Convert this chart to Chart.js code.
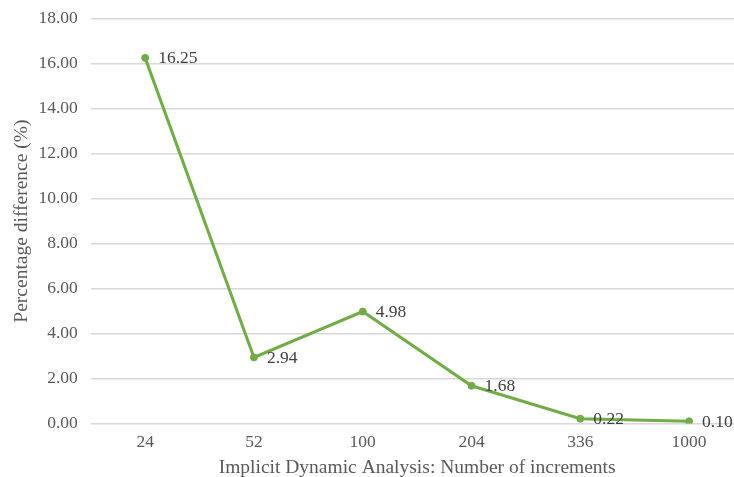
<!DOCTYPE html>
<html>
<head>
<meta charset="utf-8">
<script src="https://cdn.jsdelivr.net/npm/chart.js@4/dist/chart.umd.min.js"></script>
<style>
  html, body { margin: 0; padding: 0; background: #fff; overflow: hidden; }
  #wrap { position: relative; top: -5px; width: 748px; height: 482px; }
</style>
</head>
<body>
<div id="wrap"><canvas id="chart"></canvas></div>
<script>
const increments = ['24', '52', '100', '204', '336', '1000'];
const percentDiff = [16.25, 2.94, 4.98, 1.68, 0.22, 0.10];
const yTicks = [0, 2, 4, 6, 8, 10, 12, 14, 16, 18];

const green = '#70AD47';
const textColor = '#595959';
const fontFamily = '"Liberation Serif", "Times New Roman", serif';

// draws value labels to the right of each point
const pointLabels = {
    id: 'pointLabels',
    afterDatasetsDraw(chart) {
        const ctx = chart.ctx;
        const meta = chart.getDatasetMeta(0);
        ctx.save();
        ctx.font = '17.5px ' + fontFamily;
        ctx.fillStyle = '#404040';
        ctx.textAlign = 'left';
        ctx.textBaseline = 'middle';
        meta.data.forEach((pt, i) => {
            ctx.fillText(percentDiff[i].toFixed(2), pt.x + 13, pt.y + 1);
        });
        ctx.restore();
    }
};

new Chart(document.getElementById('chart'), {
    type: 'line',
    data: {
        labels: increments,
        datasets: [{
            data: percentDiff,
            borderColor: green,
            backgroundColor: green,
            borderWidth: 3,
            pointRadius: 3.5,
            pointBorderWidth: 1,
            pointHoverRadius: 3.5,
            tension: 0
        }]
    },
    options: {
        responsive: true,
        maintainAspectRatio: false,
        animation: false,
        layout: { padding: { top: 0, right: 0, bottom: 0, left: 10 } },
        plugins: {
            legend: { display: false },
            tooltip: { enabled: false }
        },
        scales: {
            x: {
                offset: true,
                grid: { display: false, drawTicks: false },
                border: { display: false },
                ticks: {
                    color: textColor,
                    font: { family: fontFamily, size: 17.5 },
                    padding: 8
                },
                title: {
                    display: true,
                    text: 'Implicit Dynamic Analysis: Number of increments',
                    color: textColor,
                    font: { family: fontFamily, size: 19.5 },
                    padding: { top: -4, bottom: -3 }
                }
            },
            y: {
                min: 0,
                max: 18,
                afterBuildTicks: axis => { axis.ticks = yTicks.map(v => ({ value: v })); },
                grid: { color: '#d9d9d9', lineWidth: 1.5, drawTicks: false },
                border: { display: false },
                ticks: {
                    color: textColor,
                    font: { family: fontFamily, size: 17.5 },
                    padding: 13,
                    callback: v => v.toFixed(2)
                },
                title: {
                    display: true,
                    text: 'Percentage difference (%)',
                    color: textColor,
                    font: { family: fontFamily, size: 19.5 },
                    padding: { top: 0, bottom: -8 }
                }
            }
        }
    },
    plugins: [pointLabels]
});
</script>
</body>
</html>
